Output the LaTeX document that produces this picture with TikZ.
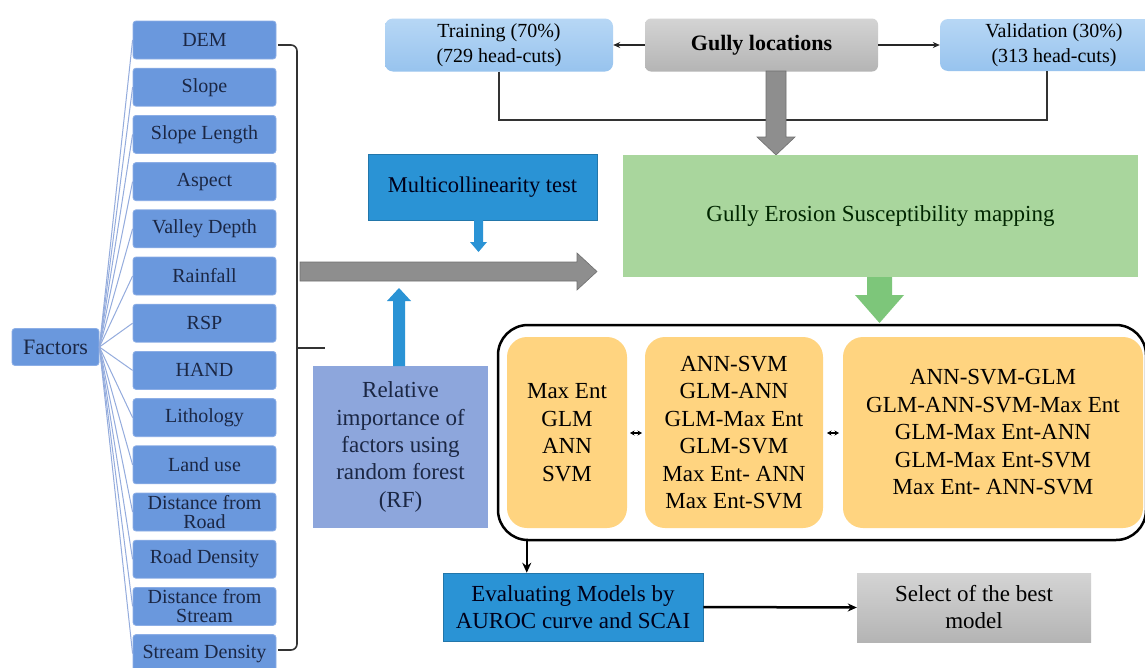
\documentclass[tikz,border=0pt]{standalone}
\usepackage{fontspec}
\setmainfont{LiberationSerif-Regular.ttf}[BoldFont=LiberationSerif-Bold.ttf]
\usetikzlibrary{arrows.meta,calc}
\definecolor{facblue}{HTML}{6A98DD}
\definecolor{facedge}{HTML}{8CAEE6}
\definecolor{facline}{HTML}{94ACDD}
\definecolor{navytxt}{HTML}{1B2744}
\definecolor{ltblueT}{HTML}{B7D7F5}
\definecolor{ltblueB}{HTML}{97C3EE}
\definecolor{grayT}{HTML}{D4D4D4}
\definecolor{grayB}{HTML}{B4B4B4}
\definecolor{brblue}{HTML}{2A93D5}
\definecolor{rfblue}{HTML}{8DA6DC}
\definecolor{greenbox}{HTML}{A9D69D}
\definecolor{greenarr}{HTML}{7DC67A}
\definecolor{orangebox}{HTML}{FFD480}
\definecolor{grayarr}{HTML}{8E8E8E}
\definecolor{grayarrD}{HTML}{6F6F6F}
\begin{document}
\begin{tikzpicture}[x=1pt,y=-1pt,
  facbox/.style={rectangle, rounded corners=3, fill=facblue, draw=facedge, line width=0.8,
    minimum width=143, minimum height=38, inner sep=0, align=center, text=navytxt,
    font=\fontsize{20}{19}\selectfont},
  facjoin/.style={draw=facline, line width=1},
  lightbox/.style={rectangle, rounded corners=8, top color=ltblueT, bottom color=ltblueB,
    minimum width=228, minimum height=53, inner sep=0, align=center,
    font=\fontsize{20}{25}\selectfont},
  graybox/.style={rectangle, rounded corners=6, top color=grayT, bottom color=grayB,
    inner sep=0, align=center, font=\fontsize{22}{27}\selectfont},
  bluebox/.style={rectangle, fill=brblue, draw=brblue!80!black, line width=0.5, inner sep=0, align=center,
    text=black!90!blue, font=\fontsize{22.5}{27}\selectfont},
  modelbox/.style={rectangle, rounded corners=20, fill=orangebox, minimum height=191,
    inner sep=0, align=center, font=\fontsize{23}{27.5}\selectfont},
  thinarr/.style={draw=black!85, line width=1.5, -{Stealth[length=7pt,width=6pt]}},
  link/.style={draw=black!80, line width=2},
  dblarr/.style={draw=black, line width=1.2, {Stealth[length=4.5pt,width=5pt]}-{Stealth[length=4.5pt,width=5pt]}}
]
\clip (0,0) rectangle (1145,667);
\fill[white] (0,0) rectangle (1145,667);

% ---------------- factors ----------------
\node[facbox, minimum width=87, minimum height=37, font=\fontsize{22}{22}\selectfont] (fac) at (55.5,347) {Factors};
\foreach \t [count=\i from 0] in {DEM,Slope,{Slope Length},Aspect,{Valley Depth},Rainfall,RSP,HAND,Lithology,{Land use},{Distance from\\Road},{Road Density},{Distance from\\Stream},{Stream Density}}{
  \node[facbox] (f\i) at (204.5,{40+47.2*\i}) {\t};
  \draw[facjoin] (fac.east) -- (f\i.west);
}

% brace
\coordinate (brtop) at (278,45);
\coordinate (brbot) at (278,650);
\coordinate (brmid) at (297,348);
\coordinate (brtip) at (325,348);
\draw[black!80, line width=1.6, rounded corners=6] (brtop) -- (297,45) -- (297,650) -- (brbot);
\draw[black!80, line width=1.6] (brmid) -- (brtip);

% big gray arrow to the right
\draw[grayarrD, fill=grayarr, line width=0.6]
  (300,262) -- (577,262) -- (577,253) -- (597,271.5) -- (577,290) -- (577,281) -- (300,281) -- cycle;

% ---------------- top row ----------------
\node[lightbox] (train) at (499,45) {Training (70\%)\\(729 head-cuts)};
\node[graybox, minimum width=233, minimum height=53, font=\bfseries\fontsize{22}{27}\selectfont] (gully) at (761.5,45) {Gully locations};
\node[lightbox, minimum height=52] (valid) at (1054,45) {Validation (30\%)\\(313 head-cuts)};
\draw[thinarr] (gully.west) -- (train.east);
\draw[thinarr] (gully.east) -- (valid.west);
\coordinate (vlink) at (1047,71);
\draw[link] (train.south) -- (499,120) -- (1047,120) -- (vlink);

% gray down arrow
\draw[grayarrD, fill=grayarr, line width=0.6]
  (766,71) -- (786,71) -- (786,137) -- (795,137) -- (776,155) -- (757,137) -- (766,137) -- cycle;

% ---------------- middle ----------------
\node[bluebox, minimum width=229, minimum height=66] (multi) at (482.5,187) {Multicollinearity test};
\fill[brblue] (474,220) -- (483,220) -- (483,242) -- (487,242) -- (478.5,252) -- (470,242) -- (474,242) -- cycle;

\node[rectangle, fill=rfblue, minimum width=175, minimum height=162, inner sep=0, align=center,
  text=navytxt, font=\fontsize{23}{27.3}\selectfont] (rf) at (400.5,447)
  {Relative\\importance of\\factors using\\random forest\\(RF)};
\fill[brblue] (393,366) -- (405,366) -- (405,301) -- (411,301) -- (399,288) -- (387,301) -- (393,301) -- cycle;

\node[rectangle, fill=greenbox, minimum width=515, minimum height=122, inner sep=0,
  text=black!85!green, font=\fontsize{23}{27}\selectfont] (gesm) at (880.5,216)
  {Gully Erosion Susceptibility mapping};
\fill[greenarr] (867,277) -- (892,277) -- (892,295) -- (904,295) -- (879.5,323) -- (855,295) -- (867,295) -- cycle;

% ---------------- models ----------------
\node[rectangle, rounded corners=30, draw=black, line width=2.5, minimum width=648, minimum height=215] (cont) at (822,432.5) {};
\node[modelbox, minimum width=120] (m1) at (567,432.5) {Max Ent\\GLM\\ANN\\SVM};
\node[modelbox, minimum width=178] (m2) at (734,432.5) {ANN-SVM\\GLM-ANN\\GLM-Max Ent\\GLM-SVM\\Max Ent- ANN\\Max Ent-SVM};
\node[modelbox, minimum width=300] (m3) at (993,432.5) {ANN-SVM-GLM\\GLM-ANN-SVM-Max Ent\\GLM-Max Ent-ANN\\GLM-Max Ent-SVM\\Max Ent- ANN-SVM};
\coordinate (d1a) at (630,433); \coordinate (d1b) at (642,433);
\coordinate (d2a) at (827,433); \coordinate (d2b) at (839,433);
\draw[dblarr] (d1a) -- (d1b);
\draw[dblarr] (d2a) -- (d2b);

% ---------------- bottom ----------------
\node[bluebox, minimum width=260, minimum height=68, font=\fontsize{23}{27}\selectfont] (ev) at (573,607)
  {Evaluating Models by\\AUROC curve and SCAI};
\node[graybox, rounded corners=0, minimum width=234, minimum height=69, font=\fontsize{23}{27}\selectfont] (sel) at (974,607.5)
  {Select of the best\\model};
\coordinate (evtop) at ($(ev.north west)+(84,0)$);
\draw[draw=black, line width=2, -{Stealth[length=10pt,width=9pt]}] (cont.south -| evtop) -- (evtop);
\draw[draw=black, line width=2.5, -{Stealth[length=9pt,width=8pt]}] (ev.east) -- (sel.west);
\end{tikzpicture}
\end{document}
